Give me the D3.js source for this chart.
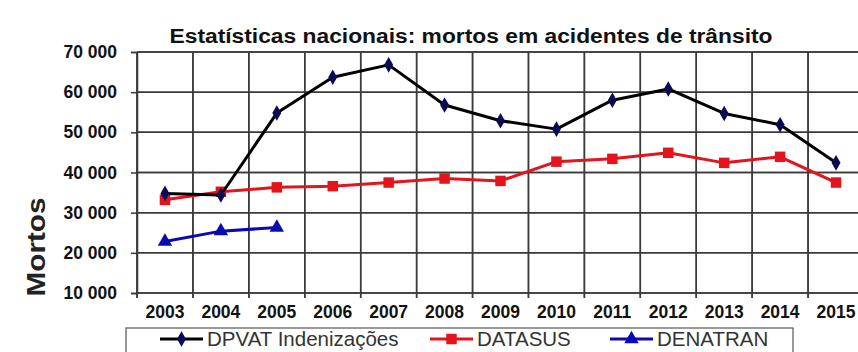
<!DOCTYPE html>
<html><head><meta charset="utf-8">
<script src="https://cdn.jsdelivr.net/npm/d3@7"></script>
<style>
html,body{margin:0;padding:0;background:#fff;overflow:hidden;width:858px;height:352px;position:relative}
svg{display:block;font-family:Arial,"Liberation Sans",sans-serif;position:absolute;left:0;top:0}
#bg{z-index:0}
#c{z-index:1;background:transparent}
</style></head>
<body>
<svg id="bg" width="858" height="352"></svg>
<svg id="c" width="858" height="352"></svg>
<script>
const years = ["2003","2004","2005","2006","2007","2008","2009","2010","2011","2012","2013","2014","2015"];
const dpvat = [34800,34400,54800,63700,66800,56800,52900,50800,58000,60800,54700,51900,42400];
const datasus = [33200,35200,36300,36600,37500,38500,37900,42700,43400,44900,42400,43900,37500];
const denatran = [22800,25400,26300];
const yTicks = [10000,20000,30000,40000,50000,60000,70000];
const seriesNames = ["DPVAT Indenizações","DATASUS","DENATRAN"];
const title = "Estatísticas nacionais: mortos em acidentes de trânsito";
const yLabel = "Mortos";

const svg = d3.select("#c");
const bg = d3.select("#bg");
const L = 137, T = 52, B = 293, R = 864;
const x = d3.scaleBand().domain(years).range([L, R]).padding(0);
const y = d3.scaleLinear().domain([10000, 70000]).range([B, T]);
const fmt = v => d3.format(",")(v).replace(/,/g, " ");
const gridColor = "#3a3a3a";

// grid (background layer and main layer)
[bg, svg].forEach(layer => {
  const g = layer.append("g");
  g.selectAll("line.h").data(yTicks).join("line").attr("class", "h")
    .attr("x1", L).attr("x2", R).attr("y1", d => y(d)).attr("y2", d => y(d))
    .attr("stroke", gridColor).attr("stroke-width", 1.5);
  g.selectAll("line.v").data(years).join("line").attr("class", "v")
    .attr("x1", d => x(d)).attr("x2", d => x(d)).attr("y1", T).attr("y2", B + 5)
    .attr("stroke", gridColor).attr("stroke-width", 1.5);
});

// y axis
const ya = svg.append("g").attr("transform", `translate(${L},0)`)
  .call(d3.axisLeft(y).tickValues(yTicks).tickFormat(fmt).tickSize(6).tickPadding(14));
ya.select(".domain").attr("stroke", gridColor).attr("stroke-width", 1.5);
ya.selectAll(".tick line").attr("stroke", gridColor).attr("stroke-width", 1.5);
ya.selectAll("text").attr("font-size", 17.5).attr("font-weight", "bold").attr("fill", "#111")
  .attr("font-family", "Arial, 'Liberation Sans', sans-serif");

// x labels
svg.append("g").selectAll("text").data(years).join("text")
  .attr("x", d => x(d) + x.bandwidth() / 2).attr("y", 318)
  .attr("text-anchor", "middle").attr("font-size", 17.5).attr("font-weight", "bold").attr("fill", "#111")
  .text(d => d);

// title
svg.append("text").attr("x", 471).attr("y", 43).attr("text-anchor", "middle")
  .attr("font-size", 20).attr("font-weight", "bold").attr("fill", "#111")
  .attr("textLength", 603).attr("lengthAdjust", "spacingAndGlyphs").text(title);

// y label
svg.append("text").attr("transform", "translate(45,247) rotate(-90)").attr("text-anchor", "middle")
  .attr("font-size", 25).attr("font-weight", "bold").attr("fill", "#222")
  .attr("textLength", 99).attr("lengthAdjust", "spacingAndGlyphs").text(yLabel);

const lineGen = d3.line().x(d => x(d.k) + x.bandwidth() / 2).y(d => y(d.v));
const mk = arr => arr.map((v, i) => ({k: years[i], v}));
const series = [
  {name: seriesNames[0], data: mk(dpvat), color: "#000", mcolor: "#0b0b55", shape: d3.symbolDiamond, size: 70},
  {name: seriesNames[1], data: mk(datasus), color: "#e3141c", mcolor: "#e3141c", shape: d3.symbolSquare, size: 110},
  {name: seriesNames[2], data: mk(denatran), color: "#0a0ab4", mcolor: "#0a0ab4", shape: d3.symbolTriangle, size: 90}
];

// legend
svg.append("rect").attr("x", 126).attr("y", 328).attr("width", 667).attr("height", 30)
  .attr("fill", "#fff").attr("stroke", "#555").attr("stroke-width", 1.2);
const legX = [160, 430, 610];
series.forEach((s, i) => {
  const g = svg.append("g").attr("transform", `translate(${legX[i]},339)`);
  g.append("line").attr("x1", 0).attr("x2", 43).attr("stroke", s.color).attr("stroke-width", 3);
  g.append("path").attr("transform", "translate(21.5,0)").attr("d", d3.symbol().type(s.shape).size(s.size)).attr("fill", s.mcolor);
  g.append("text").attr("x", 47).attr("y", 6.5).attr("font-size", 20.5).attr("fill", "#333").text(s.name);
});

// series
const order = [series[2], series[1], series[0]];
order.forEach(s => {
  svg.append("path").datum(s.data).attr("d", lineGen).attr("fill", "none")
    .attr("stroke", s.color).attr("stroke-width", 3).attr("stroke-linejoin", "round");
  svg.append("g").selectAll("path").data(s.data).join("path")
    .attr("transform", d => `translate(${x(d.k) + x.bandwidth() / 2},${y(d.v)})`)
    .attr("d", d3.symbol().type(s.shape).size(s.size)).attr("fill", s.mcolor);
});
</script>
</body></html>
